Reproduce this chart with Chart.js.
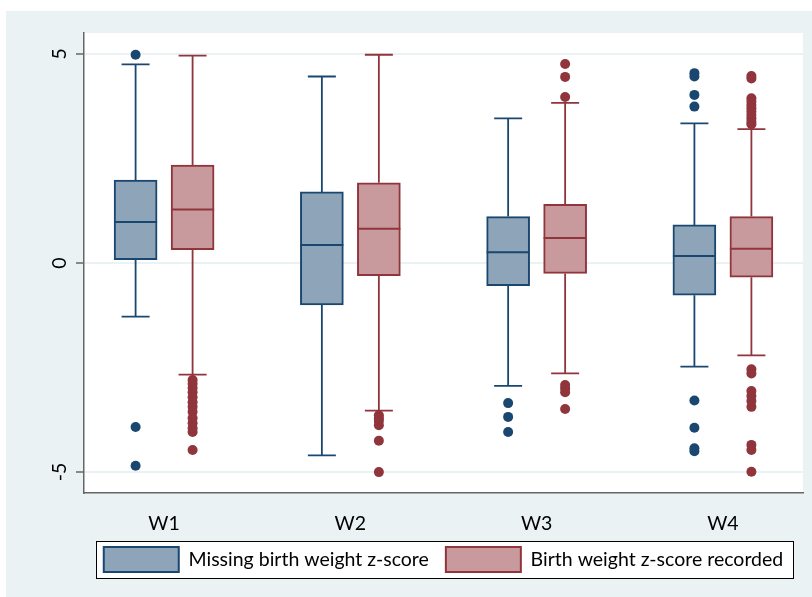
<!DOCTYPE html>
<html>
<head>
<meta charset="utf-8">
<script src="https://cdn.jsdelivr.net/npm/chart.js@4/dist/chart.umd.min.js"></script>
<style>
  html, body { margin: 0; padding: 0; background: #ffffff; }
  #wrap { width: 812px; height: 597px; }
</style>
</head>
<body>
<div id="wrap"><canvas id="chart" width="812" height="597"></canvas></div>
<script>
// Waves on the horizontal axis
const waves = ['W1', 'W2', 'W3', 'W4'];
const yTicks = [-5, 0, 5];
const seriesNames = ['Missing birth weight z-score', 'Birth weight z-score recorded'];

// Box statistics per wave: missing birth weight z-score
const missingLower  = [-1.28, -4.60, -2.94, -2.48];
const missingQ1     = [ 0.08, -1.00, -0.54, -0.77];
const missingMedian = [ 0.98,  0.43,  0.26,  0.17];
const missingQ3     = [ 1.98,  1.70,  1.11,  0.91];
const missingUpper  = [ 4.75,  4.46,  3.46,  3.34];
const missingOutliers = [
  [4.98, -3.92, -4.85],
  [],
  [-3.35, -3.68, -4.04],
  [4.54, 4.46, 4.02, 3.74, -3.29, -3.94, -4.43, -4.50]
];

// Box statistics per wave: birth weight z-score recorded
const recordedLower  = [-2.67, -3.53, -2.64, -2.21];
const recordedQ1     = [ 0.32, -0.30, -0.25, -0.34];
const recordedMedian = [ 1.28,  0.82,  0.60,  0.34];
const recordedQ3     = [ 2.34,  1.92,  1.40,  1.11];
const recordedUpper  = [ 4.96,  4.98,  3.83,  3.20];
const recordedOutliers = [
  [-2.80, -2.89, -2.99, -3.09, -3.21, -3.33, -3.44, -3.56, -3.71, -3.83, -3.95, -4.04, -4.47],
  [-3.64, -3.71, -3.78, -3.88, -4.25, -5.00],
  [4.76, 4.45, 3.97, -2.92, -3.00, -3.09, -3.49],
  [4.47, 4.41, 3.94, 3.86, 3.78, 3.70, 3.62, 3.54, 3.46, 3.38, 3.32,
   -2.54, -2.64, -3.06, -3.18, -3.30, -3.44, -4.35, -4.47, -4.99]
];

// Styling
const NAVY = '#1a476f', NAVY_FILL = '#8ea4b9';
const MAROON = '#90353b', MAROON_FILL = '#c99a9d';
const PANEL_BG = '#eaf2f3';
const FONT = 'Lato, "Open Sans", sans-serif';
const FONT_SIZE = 19.5;
const SIDE = 0.153;        // horizontal offset of each box from the wave centre (axis units)
const BOX_PX = 43;         // box width in pixels
const CAP_PX = 28;         // whisker cap width in pixels

const groups = [
  { lower: missingLower, q1: missingQ1, med: missingMedian, q3: missingQ3, upper: missingUpper,
    out: missingOutliers, stroke: NAVY, fill: NAVY_FILL, side: -1 },
  { lower: recordedLower, q1: recordedQ1, med: recordedMedian, q3: recordedQ3, upper: recordedUpper,
    out: recordedOutliers, stroke: MAROON, fill: MAROON_FILL, side: 1 }
];

const boxDatasets = groups.map((g, k) => ({
  type: 'bar',
  label: seriesNames[k],
  data: waves.map((w, i) => ({ x: i + 1 + g.side * SIDE, y: [g.q1[i], g.q3[i]] })),
  backgroundColor: g.fill,
  borderColor: g.stroke,
  borderWidth: 2,
  borderSkipped: false,
  grouped: false,
  barThickness: BOX_PX,
  order: 2
}));

const outlierDatasets = groups.map((g, k) => ({
  type: 'scatter',
  label: seriesNames[k] + ' outliers',
  data: g.out.flatMap((vals, i) => vals.map(v => ({ x: i + 1 + g.side * SIDE, y: v }))),
  backgroundColor: g.stroke,
  borderWidth: 0,
  pointRadius: 5,
  pointHoverRadius: 5,
  order: 1
}));

// Whiskers and caps under the boxes, medians on top of them
const whiskerPlugin = {
  id: 'whiskers',
  beforeDatasetsDraw(chart) {
    const { ctx, scales: { x, y } } = chart;
    ctx.save();
    ctx.lineWidth = 1.8;
    groups.forEach(g => {
      ctx.strokeStyle = g.stroke;
      waves.forEach((w, i) => {
        const px = x.getPixelForValue(i + 1 + g.side * SIDE);
        const segs = [[g.q3[i], g.upper[i]], [g.q1[i], g.lower[i]]];
        segs.forEach(([from, to]) => {
          const y0 = y.getPixelForValue(from), y1 = y.getPixelForValue(to);
          ctx.beginPath();
          ctx.moveTo(px, y0); ctx.lineTo(px, y1);
          ctx.moveTo(px - CAP_PX / 2, y1); ctx.lineTo(px + CAP_PX / 2, y1);
          ctx.stroke();
        });
      });
    });
    ctx.restore();
  },
  afterDatasetsDraw(chart) {
    const { ctx, scales: { x, y } } = chart;
    ctx.save();
    ctx.lineWidth = 2;
    groups.forEach(g => {
      ctx.strokeStyle = g.stroke;
      waves.forEach((w, i) => {
        const px = x.getPixelForValue(i + 1 + g.side * SIDE);
        const py = y.getPixelForValue(g.med[i]);
        ctx.beginPath();
        ctx.moveTo(px - BOX_PX / 2, py); ctx.lineTo(px + BOX_PX / 2, py);
        ctx.stroke();
      });
    });
    ctx.restore();
  }
};

// Graph region background and white plot panel
const backgroundPlugin = {
  id: 'panels',
  beforeDraw(chart) {
    const { ctx, chartArea: a, width, height } = chart;
    ctx.save();
    ctx.fillStyle = '#ffffff';
    ctx.fillRect(0, 0, width, height);
    ctx.fillStyle = PANEL_BG;
    ctx.fillRect(6, 11, width - 6, height - 11);
    ctx.fillStyle = '#ffffff';
    ctx.fillRect(a.left, a.top, a.right - a.left, a.bottom - a.top);
    ctx.restore();
  }
};

// Legend background and frame
const legendFramePlugin = {
  id: 'legendFrame',
  beforeDraw(chart) {
    const lg = chart.legend;
    if (!lg || !lg.legendHitBoxes || !lg.legendHitBoxes.length) return;
    const hb = lg.legendHitBoxes;
    const first = hb[0], last = hb[hb.length - 1];
    const l = first.left - 8, t = first.top - 6;
    const r = last.left + last.width + 10, b = first.top + first.height + 6;
    const ctx = chart.ctx;
    ctx.save();
    ctx.fillStyle = '#ffffff';
    ctx.fillRect(l, t, r - l, b - t);
    ctx.strokeStyle = '#000000';
    ctx.lineWidth = 1;
    ctx.strokeRect(Math.round(l) + 0.5, Math.round(t) + 0.5, Math.round(r - l), Math.round(b - t));
    ctx.restore();
  }
};

new Chart(document.getElementById('chart'), {
  data: { datasets: [...boxDatasets, ...outlierDatasets] },
  options: {
    responsive: false,
    devicePixelRatio: 1,
    animation: false,
    events: [],
    layout: { padding: { top: 33, left: 0, right: 9, bottom: 15 } },
    scales: {
      x: {
        type: 'linear',
        offset: false,
        min: 0.57,
        max: 4.43,
        afterBuildTicks: s => { s.ticks = waves.map((w, i) => ({ value: i + 1 })); },
        afterFit: s => { s.height = 37; },
        ticks: {
          callback: (v, idx) => waves[idx],
          autoSkip: false, maxRotation: 0,
          padding: 19,
          color: '#000000',
          font: { family: FONT, size: FONT_SIZE }
        },
        grid: { display: false, drawTicks: false },
        border: { display: true, color: '#666666', width: 1.5 }
      },
      y: {
        type: 'linear',
        min: -5.5,
        max: 5.5,
        afterBuildTicks: s => { s.ticks = yTicks.map(v => ({ value: v })); },
        afterFit: s => { s.width = 84; },
        ticks: {
          minRotation: 90, maxRotation: 90,
          crossAlign: 'center',
          padding: 7,
          color: '#000000',
          font: { family: FONT, size: FONT_SIZE },
          callback: v => String(v)
        },
        grid: { color: PANEL_BG, lineWidth: 2, tickColor: '#666666', tickLength: 8, tickWidth: 1.5 },
        border: { display: true, color: '#666666', width: 1.5 }
      }
    },
    plugins: {
      legend: {
        position: 'bottom',
        fullSize: false,
        labels: {
          filter: item => item.datasetIndex < 2,
          boxWidth: 75,
          boxHeight: 25,
          padding: 17,
          color: '#000000',
          font: { family: FONT, size: FONT_SIZE }
        }
      },
      tooltip: { enabled: false }
    }
  },
  plugins: [backgroundPlugin, legendFramePlugin, whiskerPlugin]
});
</script>
</body>
</html>
